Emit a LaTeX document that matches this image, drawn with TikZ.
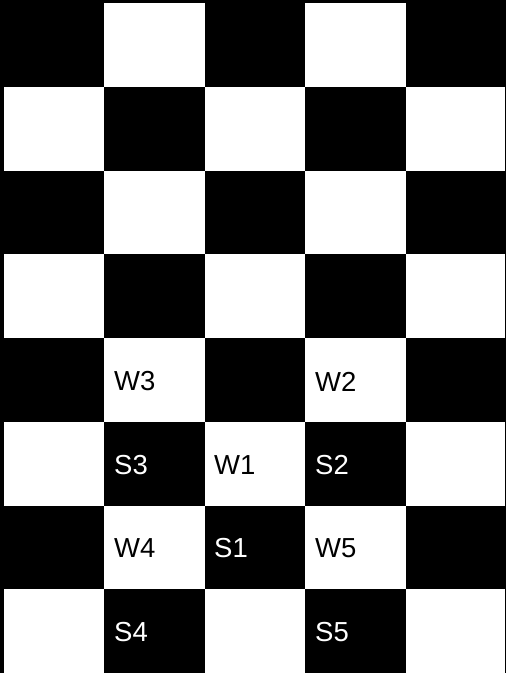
\documentclass[tikz,border=0pt]{standalone}
\usepackage{fontspec}
\setmainfont{Liberation Sans}
\begin{document}
\begin{tikzpicture}[x=1pt,y=-1pt,
  lbl/.style={anchor=west,inner sep=0pt,font=\fontsize{27.5}{31}\selectfont},
  onblack/.style={lbl,text=white},
  onwhite/.style={lbl,text=black}]
\def\cw{100.4}
\def\ch{83.7}
\def\xo{4}
\def\yo{3.3}
\useasboundingbox (0,0) rectangle (506,673);
\fill[white] (0,0) rectangle (506,673);
\foreach \r in {0,...,7}{
  \foreach \c in {0,...,4}{
    \pgfmathtruncatemacro{\parity}{mod(\r+\c,2)}
    \ifnum\parity=0
      \fill[black] ({\xo+\c*\cw},{\yo+\r*\ch}) rectangle ({\xo+(\c+1)*\cw},{\yo+(\r+1)*\ch});
    \fi
  }
}
% frame
\fill[black] (0,0) rectangle (506,\yo);
\fill[black] (0,0) rectangle (\xo,673);
\fill[black] (505,0) rectangle (506,673);
% labels
\node[onwhite] (w3) at (114,381.5) {W3};
\node[onwhite] (w2) at (315,381.5) {W2};
\node[onblack] (s3) at (114,465) {S3};
\node[onwhite] (w1) at (214,465) {W1};
\node[onblack] (s2) at (315,465) {S2};
\node[onwhite] (w4) at (114,548.5) {W4};
\node[onblack] (s1) at (214,548.5) {S1};
\node[onwhite] (w5) at (315,548.5) {W5};
\node[onblack] (s4) at (114,632) {S4};
\node[onblack] (s5) at (315,632) {S5};
\end{tikzpicture}
\end{document}
